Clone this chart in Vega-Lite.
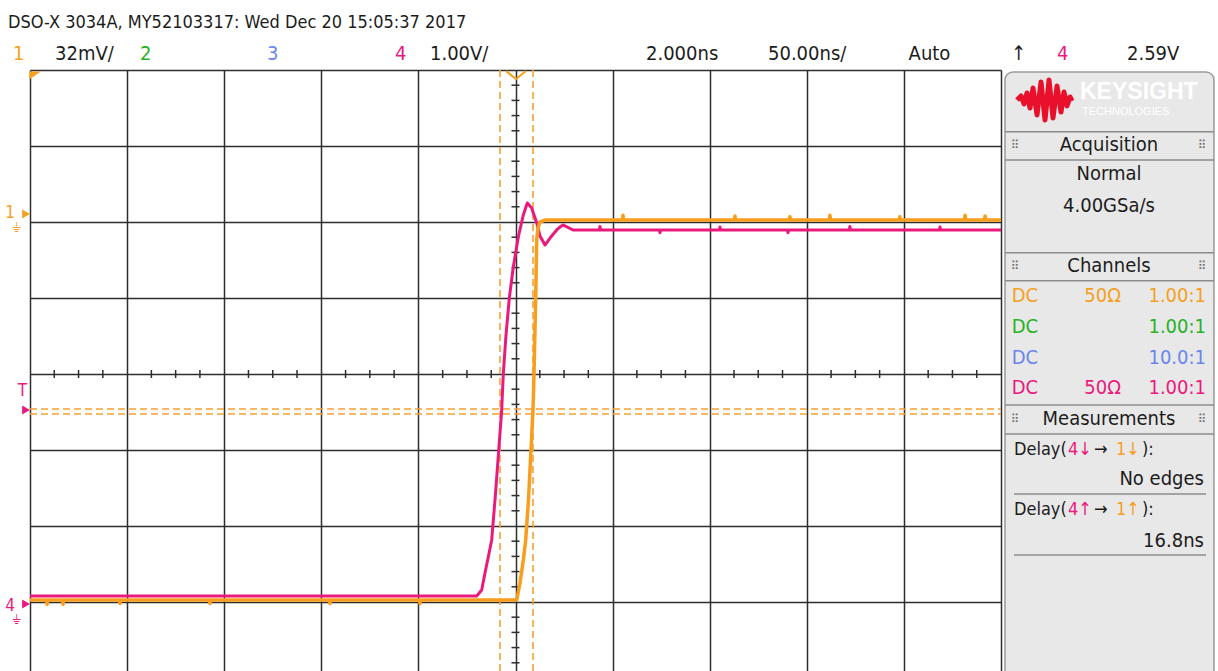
{
  "$schema": "https://vega.github.io/schema/vega-lite/v6.json",
  "width": 971,
  "height": 601,
  "autosize": {"type": "none"},
  "padding": {"left": 30, "top": 70, "right": 217, "bottom": 0},
  "background": "white",
  "config": {
    "view": {"stroke": null},
    "text": {"font": "Liberation Sans Narrow, DejaVu Sans Condensed, Liberation Sans, sans-serif"}
  },
  "datasets": {
    "tr": [
      {"ch": "4", "t": -250, "v": -2.921}, {"ch": "4", "t": -19.98, "v": -2.921}, {"ch": "4", "t": -17.4, "v": -2.842},
      {"ch": "4", "t": -15.71, "v": -2.618}, {"ch": "4", "t": -14.01, "v": -2.408}, {"ch": "4", "t": -12.26, "v": -2.184},
      {"ch": "4", "t": -10.56, "v": -1.658}, {"ch": "4", "t": -9.01, "v": -1.132}, {"ch": "4", "t": -7.11, "v": -0.474},
      {"ch": "4", "t": -6.28, "v": 0}, {"ch": "4", "t": -4.89, "v": 0.513}, {"ch": "4", "t": -3.19, "v": 1.0},
      {"ch": "4", "t": -1.13, "v": 1.408}, {"ch": "4", "t": 1.44, "v": 1.803}, {"ch": "4", "t": 4.02, "v": 2.092},
      {"ch": "4", "t": 6.08, "v": 2.25}, {"ch": "4", "t": 8.34, "v": 2.184}, {"ch": "4", "t": 10.92, "v": 1.987},
      {"ch": "4", "t": 12.62, "v": 1.816}, {"ch": "4", "t": 15.19, "v": 1.697}, {"ch": "4", "t": 17.77, "v": 1.789},
      {"ch": "4", "t": 21.22, "v": 1.895}, {"ch": "4", "t": 22.91, "v": 1.934}, {"ch": "4", "t": 24.46, "v": 1.961},
      {"ch": "4", "t": 29.61, "v": 1.895},
      {"ch": "4", "t": 43.2, "v": 1.895}, {"ch": "4", "t": 43.5, "v": 1.94}, {"ch": "4", "t": 43.8, "v": 1.895},
      {"ch": "4", "t": 74.1, "v": 1.895}, {"ch": "4", "t": 74.4, "v": 1.86}, {"ch": "4", "t": 74.7, "v": 1.895},
      {"ch": "4", "t": 105.0, "v": 1.895}, {"ch": "4", "t": 105.3, "v": 1.935}, {"ch": "4", "t": 105.6, "v": 1.895},
      {"ch": "4", "t": 140.0, "v": 1.895}, {"ch": "4", "t": 140.3, "v": 1.86}, {"ch": "4", "t": 140.6, "v": 1.895},
      {"ch": "4", "t": 171.9, "v": 1.895}, {"ch": "4", "t": 172.2, "v": 1.94}, {"ch": "4", "t": 172.5, "v": 1.895},
      {"ch": "4", "t": 218.3, "v": 1.895}, {"ch": "4", "t": 218.6, "v": 1.935}, {"ch": "4", "t": 218.9, "v": 1.895},
      {"ch": "4", "t": 250, "v": 1.895},
      {"ch": "1", "t": -250, "v": -2.974},
      {"ch": "1", "t": -241.5, "v": -2.974}, {"ch": "1", "t": -241.2, "v": -3.03}, {"ch": "1", "t": -240.9, "v": -2.974},
      {"ch": "1", "t": -233.3, "v": -2.974}, {"ch": "1", "t": -233.0, "v": -3.03}, {"ch": "1", "t": -232.7, "v": -2.974},
      {"ch": "1", "t": -204.0, "v": -2.974}, {"ch": "1", "t": -203.7, "v": -3.02}, {"ch": "1", "t": -203.4, "v": -2.974},
      {"ch": "1", "t": -157.6, "v": -2.974}, {"ch": "1", "t": -157.3, "v": -3.02}, {"ch": "1", "t": -157.0, "v": -2.974},
      {"ch": "1", "t": -95.8, "v": -2.974}, {"ch": "1", "t": -95.5, "v": -3.02}, {"ch": "1", "t": -95.2, "v": -2.974},
      {"ch": "1", "t": -49.5, "v": -2.974}, {"ch": "1", "t": -49.2, "v": -3.02}, {"ch": "1", "t": -48.9, "v": -2.974},
      {"ch": "1", "t": 0.62, "v": -2.974}, {"ch": "1", "t": 2.32, "v": -2.75}, {"ch": "1", "t": 4.02, "v": -2.447},
      {"ch": "1", "t": 5.25, "v": -2.184}, {"ch": "1", "t": 6.69, "v": -1.658}, {"ch": "1", "t": 7.98, "v": -1.0},
      {"ch": "1", "t": 9.01, "v": -0.474}, {"ch": "1", "t": 9.53, "v": 0}, {"ch": "1", "t": 10.4, "v": 1.0},
      {"ch": "1", "t": 10.92, "v": 1.763}, {"ch": "1", "t": 11.59, "v": 1.921}, {"ch": "1", "t": 12.62, "v": 2.0},
      {"ch": "1", "t": 15.19, "v": 2.026},
      {"ch": "1", "t": 55.05, "v": 2.026}, {"ch": "1", "t": 55.35, "v": 2.09}, {"ch": "1", "t": 55.65, "v": 2.026},
      {"ch": "1", "t": 112.7, "v": 2.026}, {"ch": "1", "t": 113.0, "v": 2.08}, {"ch": "1", "t": 113.3, "v": 2.026},
      {"ch": "1", "t": 141.0, "v": 2.026}, {"ch": "1", "t": 141.3, "v": 2.07}, {"ch": "1", "t": 141.6, "v": 2.026},
      {"ch": "1", "t": 161.6, "v": 2.026}, {"ch": "1", "t": 161.9, "v": 2.09}, {"ch": "1", "t": 162.2, "v": 2.026},
      {"ch": "1", "t": 197.6, "v": 2.026}, {"ch": "1", "t": 197.9, "v": 2.07}, {"ch": "1", "t": 198.2, "v": 2.026},
      {"ch": "1", "t": 231.2, "v": 2.026}, {"ch": "1", "t": 231.5, "v": 2.09}, {"ch": "1", "t": 231.8, "v": 2.026},
      {"ch": "1", "t": 241.5, "v": 2.026}, {"ch": "1", "t": 241.8, "v": 2.08}, {"ch": "1", "t": 242.1, "v": 2.026},
      {"ch": "1", "t": 250, "v": 2.026}
    ],
    "cur": [
      {"t": -7.98, "t2": -7.98, "v": 4, "v2": -3.908},
      {"t": 9.01, "t2": 9.01, "v": 4, "v2": -3.908},
      {"t": -250, "t2": 250, "v": -0.461, "v2": -0.461},
      {"t": -250, "t2": 250, "v": -0.526, "v2": -0.526}
    ],
    "tkh": [
      {"t": -237.5, "v": 0}, {"t": -225, "v": 0}, {"t": -212.5, "v": 0}, {"t": -187.5, "v": 0}, {"t": -175, "v": 0}, {"t": -162.5, "v": 0},
      {"t": -137.5, "v": 0}, {"t": -125, "v": 0}, {"t": -112.5, "v": 0}, {"t": -87.5, "v": 0}, {"t": -75, "v": 0}, {"t": -62.5, "v": 0},
      {"t": -37.5, "v": 0}, {"t": -25, "v": 0}, {"t": -12.5, "v": 0}, {"t": 12.5, "v": 0}, {"t": 25, "v": 0}, {"t": 37.5, "v": 0},
      {"t": 62.5, "v": 0}, {"t": 75, "v": 0}, {"t": 87.5, "v": 0}, {"t": 112.5, "v": 0}, {"t": 125, "v": 0}, {"t": 137.5, "v": 0},
      {"t": 162.5, "v": 0}, {"t": 175, "v": 0}, {"t": 187.5, "v": 0}, {"t": 212.5, "v": 0}, {"t": 225, "v": 0}, {"t": 237.5, "v": 0}
    ],
    "tkv": [
      {"t": 0, "v": -3.8}, {"t": 0, "v": -3.6}, {"t": 0, "v": -3.4}, {"t": 0, "v": -3.2}, {"t": 0, "v": -2.8}, {"t": 0, "v": -2.6}, {"t": 0, "v": -2.4},
      {"t": 0, "v": -2.2}, {"t": 0, "v": -1.8}, {"t": 0, "v": -1.6}, {"t": 0, "v": -1.4}, {"t": 0, "v": -1.2}, {"t": 0, "v": -0.8},
      {"t": 0, "v": -0.6}, {"t": 0, "v": -0.4}, {"t": 0, "v": -0.2}, {"t": 0, "v": 0.2}, {"t": 0, "v": 0.4}, {"t": 0, "v": 0.6}, {"t": 0, "v": 0.8},
      {"t": 0, "v": 1.2}, {"t": 0, "v": 1.4}, {"t": 0, "v": 1.6}, {"t": 0, "v": 1.8}, {"t": 0, "v": 2.2}, {"t": 0, "v": 2.4},
      {"t": 0, "v": 2.6}, {"t": 0, "v": 2.8}, {"t": 0, "v": 3.2}, {"t": 0, "v": 3.4}, {"t": 0, "v": 3.6}, {"t": 0, "v": 3.8}
    ],
    "pan": [{"t": 252.05, "t2": 359.67, "v": 3.974, "v2": -4.6}],
    "sep": [
      {"t": 252.05, "t2": 359.67, "v": 3.188, "v2": 3.188},
      {"t": 252.05, "t2": 359.67, "v": 2.816, "v2": 2.816},
      {"t": 252.05, "t2": 359.67, "v": 1.596, "v2": 1.596},
      {"t": 252.05, "t2": 359.67, "v": 1.228, "v2": 1.228},
      {"t": 252.05, "t2": 359.67, "v": -0.408, "v2": -0.408},
      {"t": 252.05, "t2": 359.67, "v": -0.789, "v2": -0.789},
      {"t": 256.7, "t2": 355.56, "v": -1.579, "v2": -1.579},
      {"t": 256.7, "t2": 355.56, "v": -2.382, "v2": -2.382}
    ],
    "logo": [
      {"t": 258.24, "v": 3.605}, {"t": 260.3, "v": 3.658}, {"t": 261.85, "v": 3.553}, {"t": 263.39, "v": 3.697},
      {"t": 264.94, "v": 3.5}, {"t": 266.48, "v": 3.763}, {"t": 268.54, "v": 3.408}, {"t": 270.6, "v": 3.842},
      {"t": 272.66, "v": 3.342}, {"t": 274.72, "v": 3.868}, {"t": 276.78, "v": 3.368}, {"t": 278.84, "v": 3.789},
      {"t": 280.9, "v": 3.447}, {"t": 282.45, "v": 3.711}, {"t": 283.99, "v": 3.526}, {"t": 285.54, "v": 3.645},
      {"t": 286.57, "v": 3.592}
    ],
    "pts": [
      {"t": -252.05, "v": 2.105, "c": "o"},
      {"t": -252.05, "v": -0.474, "c": "p"},
      {"t": -252.05, "v": -3.026, "c": "p"}
    ],
    "topm": [
      {"t": -247.4, "v": 3.928, "c": "o", "k": "corner"},
      {"t": 0.26, "v": 3.934, "c": "o", "k": "vee"}
    ],
    "lab": [
      {"grp": "h1", "t": -261.33, "v": 4.62, "s": "DSO-X 3034A, MY52103317: Wed Dec 20 15:05:37 2017", "c": "k"},
      {"grp": "h", "t": -258.75, "v": 4.211, "s": "1", "c": "o"},
      {"grp": "h", "t": -237.13, "v": 4.211, "s": "32mV/", "c": "k"},
      {"grp": "h", "t": -193.36, "v": 4.211, "s": "2", "c": "g"},
      {"grp": "h", "t": -127.96, "v": 4.211, "s": "3", "c": "b"},
      {"grp": "h", "t": -62.05, "v": 4.211, "s": "4", "c": "p"},
      {"grp": "h", "t": -44.03, "v": 4.211, "s": "1.00V/", "c": "k"},
      {"grp": "h", "t": 67.2, "v": 4.211, "s": "2.000ns", "c": "k"},
      {"grp": "h", "t": 130.02, "v": 4.211, "s": "50.00ns/", "c": "k"},
      {"grp": "h", "t": 202.42, "v": 4.211, "s": "Auto", "c": "k"},
      {"grp": "h", "t": 255.15, "v": 4.211, "s": "↑", "c": "k"},
      {"grp": "h", "t": 278.83, "v": 4.211, "s": "4", "c": "p"},
      {"grp": "h", "t": 314.87, "v": 4.211, "s": "2.59V", "c": "k"},
      {"grp": "pc", "t": 305.61, "v": 3.013, "s": "Acquisition", "c": "k"},
      {"grp": "pc", "t": 305.61, "v": 2.632, "s": "Normal", "c": "k"},
      {"grp": "pc", "t": 305.61, "v": 2.204, "s": "4.00GSa/s", "c": "k"},
      {"grp": "pc", "t": 305.61, "v": 1.421, "s": "Channels", "c": "k"},
      {"grp": "pc", "t": 305.61, "v": -0.586, "s": "Measurements", "c": "k"},
      {"grp": "pl", "t": 255.5, "v": 1.02, "s": "DC", "c": "o"},
      {"grp": "pl", "t": 255.5, "v": 0.618, "s": "DC", "c": "g"},
      {"grp": "pl", "t": 255.5, "v": 0.217, "s": "DC", "c": "b"},
      {"grp": "pl", "t": 255.5, "v": -0.178, "s": "DC", "c": "p"},
      {"grp": "pd", "t": 256.7, "v": -1.0, "s": "Delay(", "c": "k"},
      {"grp": "pd", "t": 284.5, "v": -1.0, "s": "4↓", "c": "p"},
      {"grp": "pd", "t": 297.9, "v": -1.0, "s": "→", "c": "k"},
      {"grp": "pd", "t": 309.2, "v": -1.0, "s": "1↓", "c": "o"},
      {"grp": "pd", "t": 322.6, "v": -1.0, "s": "):", "c": "k"},
      {"grp": "pd", "t": 256.7, "v": -1.789, "s": "Delay(", "c": "k"},
      {"grp": "pd", "t": 284.5, "v": -1.789, "s": "4↑", "c": "p"},
      {"grp": "pd", "t": 297.9, "v": -1.789, "s": "→", "c": "k"},
      {"grp": "pd", "t": 309.2, "v": -1.789, "s": "1↑", "c": "o"},
      {"grp": "pd", "t": 322.6, "v": -1.789, "s": "):", "c": "k"},
      {"grp": "pr", "t": 311.78, "v": 1.02, "s": "50Ω", "c": "o"},
      {"grp": "pr", "t": 355.56, "v": 1.02, "s": "1.00:1", "c": "o"},
      {"grp": "pr", "t": 355.56, "v": 0.618, "s": "1.00:1", "c": "g"},
      {"grp": "pr", "t": 355.56, "v": 0.217, "s": "10.0:1", "c": "b"},
      {"grp": "pr", "t": 311.78, "v": -0.178, "s": "50Ω", "c": "p"},
      {"grp": "pr", "t": 355.56, "v": -0.178, "s": "1.00:1", "c": "p"},
      {"grp": "pr", "t": 354.5, "v": -1.382, "s": "No edges", "c": "k"},
      {"grp": "pr", "t": 354.5, "v": -2.197, "s": "16.8ns", "c": "k"},
      {"grp": "g", "t": 257.2, "v": 3.013, "s": "⠿", "c": "gr"},
      {"grp": "g", "t": 353.5, "v": 3.013, "s": "⠿", "c": "gr"},
      {"grp": "g", "t": 257.2, "v": 1.421, "s": "⠿", "c": "gr"},
      {"grp": "g", "t": 353.5, "v": 1.421, "s": "⠿", "c": "gr"},
      {"grp": "g", "t": 257.2, "v": -0.586, "s": "⠿", "c": "gr"},
      {"grp": "g", "t": 353.5, "v": -0.586, "s": "⠿", "c": "gr"},
      {"grp": "m", "t": -260.3, "v": 2.118, "s": "1", "c": "o"},
      {"grp": "m", "t": -253.87, "v": -0.224, "s": "T", "c": "p"},
      {"grp": "m", "t": -260.3, "v": -3.053, "s": "4", "c": "p"},
      {"grp": "gnd", "t": -257.2, "v": 1.921, "s": "⏚", "c": "o"},
      {"grp": "gnd", "t": -257.2, "v": -3.237, "s": "⏚", "c": "p"},
      {"grp": "k1", "t": 290.68, "v": 3.704, "s": "KEYSIGHT", "c": "w"},
      {"grp": "k2", "t": 291.71, "v": 3.447, "s": "TECHNOLOGIES", "c": "w"}
    ]
  },
  "encoding": {
    "x": {
      "field": "t", "type": "quantitative",
      "scale": {"domain": [-250, 250], "nice": false, "zero": false},
      "axis": {"values": [-250, -200, -150, -100, -50, 0, 50, 100, 150, 200, 250], "grid": true, "gridColor": "#2e2e2e", "gridWidth": 1.5, "gridOpacity": 1, "labels": false, "ticks": false, "domain": false, "title": null}
    },
    "y": {
      "field": "v", "type": "quantitative",
      "scale": {"domain": [-3.908, 4], "nice": false, "zero": false},
      "axis": {"values": [-3, -2, -1, 0, 1, 2, 3, 4], "grid": true, "gridColor": "#2e2e2e", "gridWidth": 1.5, "gridOpacity": 1, "labels": false, "ticks": false, "domain": false, "title": null}
    }
  },
  "layer": [
    {
      "data": {"name": "tkh"},
      "mark": {"type": "tick", "orient": "vertical", "size": 8, "thickness": 1.5, "color": "#2e2e2e", "opacity": 1},
      "encoding": {}
    },
    {
      "data": {"name": "tkv"},
      "mark": {"type": "tick", "orient": "horizontal", "size": 8, "thickness": 1.5, "color": "#2e2e2e", "opacity": 1},
      "encoding": {}
    },
    {
      "data": {"name": "cur"},
      "mark": {"type": "rule", "color": "#f7a035", "strokeWidth": 1.6, "strokeDash": [7, 4]},
      "encoding": {"x2": {"field": "t2"}, "y2": {"field": "v2"}}
    },
    {
      "data": {"name": "tr"},
      "transform": [{"filter": "datum.ch === '4'"}],
      "mark": {"type": "line", "color": "#ea1a7c", "strokeWidth": 3, "strokeJoin": "round"},
      "encoding": {}
    },
    {
      "data": {"name": "tr"},
      "transform": [{"filter": "datum.ch === '1'"}],
      "mark": {"type": "line", "color": "#f99d1c", "strokeWidth": 3.5, "strokeJoin": "round"},
      "encoding": {}
    },
    {
      "data": {"name": "pan"},
      "mark": {"type": "rect", "fill": "#e8e8e8", "stroke": "#9a9a9a", "strokeWidth": 1.5, "cornerRadius": 8},
      "encoding": {"x2": {"field": "t2"}, "y2": {"field": "v2"}}
    },
    {
      "data": {"name": "sep"},
      "mark": {"type": "rule", "color": "#8c8c8c", "strokeWidth": 1.5},
      "encoding": {"x2": {"field": "t2"}, "y2": {"field": "v2"}}
    },
    {
      "data": {"name": "logo"},
      "mark": {"type": "line", "color": "#e8102a", "strokeWidth": 5, "strokeJoin": "round"},
      "encoding": {}
    },
    {
      "data": {"name": "pts"},
      "mark": {"type": "point", "shape": "triangle-right", "filled": true, "size": 80, "opacity": 1},
      "encoding": {"color": {"field": "c", "type": "nominal", "scale": {"domain": ["k", "o", "g", "b", "p", "w", "gr"], "range": ["#1c1c1c", "#f5a01e", "#27b227", "#6a86ee", "#ea1a7c", "#ffffff", "#707070"]}, "legend": null}}
    },
    {
      "data": {"name": "topm"},
      "transform": [{"filter": "datum.k === 'corner'"}],
      "mark": {"type": "point", "shape": "M-1,-0.7L1,-0.7L-1,0.7Z", "filled": true, "size": 130, "opacity": 1, "color": "#f5a01e"},
      "encoding": {}
    },
    {
      "data": {"name": "topm"},
      "transform": [{"filter": "datum.k === 'vee'"}],
      "mark": {"type": "point", "shape": "M-1,-0.4L0,0.4L1,-0.4", "filled": false, "size": 400, "strokeWidth": 2, "opacity": 1, "color": "#f5a01e"},
      "encoding": {}
    },
    {
      "data": {"name": "lab"},
      "transform": [{"filter": "datum.grp === 'h1'"}],
      "mark": {"type": "text", "align": "left", "baseline": "middle", "fontSize": 18},
      "encoding": {"text": {"field": "s"}, "color": {"field": "c", "type": "nominal", "scale": {"domain": ["k", "o", "g", "b", "p", "w", "gr"], "range": ["#1c1c1c", "#f5a01e", "#27b227", "#6a86ee", "#ea1a7c", "#ffffff", "#707070"]}, "legend": null}}
    },
    {
      "data": {"name": "lab"},
      "transform": [{"filter": "datum.grp === 'h'"}],
      "mark": {"type": "text", "align": "left", "baseline": "middle", "fontSize": 20},
      "encoding": {"text": {"field": "s"}, "color": {"field": "c", "type": "nominal", "scale": {"domain": ["k", "o", "g", "b", "p", "w", "gr"], "range": ["#1c1c1c", "#f5a01e", "#27b227", "#6a86ee", "#ea1a7c", "#ffffff", "#707070"]}, "legend": null}}
    },
    {
      "data": {"name": "lab"},
      "transform": [{"filter": "datum.grp === 'pc'"}],
      "mark": {"type": "text", "align": "center", "baseline": "middle", "fontSize": 20},
      "encoding": {"text": {"field": "s"}, "color": {"field": "c", "type": "nominal", "scale": {"domain": ["k", "o", "g", "b", "p", "w", "gr"], "range": ["#1c1c1c", "#f5a01e", "#27b227", "#6a86ee", "#ea1a7c", "#ffffff", "#707070"]}, "legend": null}}
    },
    {
      "data": {"name": "lab"},
      "transform": [{"filter": "datum.grp === 'pl'"}],
      "mark": {"type": "text", "align": "left", "baseline": "middle", "fontSize": 20},
      "encoding": {"text": {"field": "s"}, "color": {"field": "c", "type": "nominal", "scale": {"domain": ["k", "o", "g", "b", "p", "w", "gr"], "range": ["#1c1c1c", "#f5a01e", "#27b227", "#6a86ee", "#ea1a7c", "#ffffff", "#707070"]}, "legend": null}}
    },
    {
      "data": {"name": "lab"},
      "transform": [{"filter": "datum.grp === 'pd'"}],
      "mark": {"type": "text", "align": "left", "baseline": "middle", "fontSize": 18},
      "encoding": {"text": {"field": "s"}, "color": {"field": "c", "type": "nominal", "scale": {"domain": ["k", "o", "g", "b", "p", "w", "gr"], "range": ["#1c1c1c", "#f5a01e", "#27b227", "#6a86ee", "#ea1a7c", "#ffffff", "#707070"]}, "legend": null}}
    },
    {
      "data": {"name": "lab"},
      "transform": [{"filter": "datum.grp === 'pr'"}],
      "mark": {"type": "text", "align": "right", "baseline": "middle", "fontSize": 20},
      "encoding": {"text": {"field": "s"}, "color": {"field": "c", "type": "nominal", "scale": {"domain": ["k", "o", "g", "b", "p", "w", "gr"], "range": ["#1c1c1c", "#f5a01e", "#27b227", "#6a86ee", "#ea1a7c", "#ffffff", "#707070"]}, "legend": null}}
    },
    {
      "data": {"name": "lab"},
      "transform": [{"filter": "datum.grp === 'g'"}],
      "mark": {"type": "text", "align": "center", "baseline": "middle", "fontSize": 12, "font": "DejaVu Sans"},
      "encoding": {"text": {"field": "s"}, "color": {"field": "c", "type": "nominal", "scale": {"domain": ["k", "o", "g", "b", "p", "w", "gr"], "range": ["#1c1c1c", "#f5a01e", "#27b227", "#6a86ee", "#ea1a7c", "#ffffff", "#707070"]}, "legend": null}}
    },
    {
      "data": {"name": "lab"},
      "transform": [{"filter": "datum.grp === 'm'"}],
      "mark": {"type": "text", "align": "center", "baseline": "middle", "fontSize": 17},
      "encoding": {"text": {"field": "s"}, "color": {"field": "c", "type": "nominal", "scale": {"domain": ["k", "o", "g", "b", "p", "w", "gr"], "range": ["#1c1c1c", "#f5a01e", "#27b227", "#6a86ee", "#ea1a7c", "#ffffff", "#707070"]}, "legend": null}}
    },
    {
      "data": {"name": "lab"},
      "transform": [{"filter": "datum.grp === 'gnd'"}],
      "mark": {"type": "text", "align": "center", "baseline": "middle", "fontSize": 13, "font": "DejaVu Sans"},
      "encoding": {"text": {"field": "s"}, "color": {"field": "c", "type": "nominal", "scale": {"domain": ["k", "o", "g", "b", "p", "w", "gr"], "range": ["#1c1c1c", "#f5a01e", "#27b227", "#6a86ee", "#ea1a7c", "#ffffff", "#707070"]}, "legend": null}}
    },
    {
      "data": {"name": "lab"},
      "transform": [{"filter": "datum.grp === 'k1'"}],
      "mark": {"type": "text", "align": "left", "baseline": "middle", "fontSize": 23, "fontWeight": "bold", "font": "Liberation Sans"},
      "encoding": {"text": {"field": "s"}, "color": {"field": "c", "type": "nominal", "scale": {"domain": ["k", "o", "g", "b", "p", "w", "gr"], "range": ["#1c1c1c", "#f5a01e", "#27b227", "#6a86ee", "#ea1a7c", "#ffffff", "#707070"]}, "legend": null}}
    },
    {
      "data": {"name": "lab"},
      "transform": [{"filter": "datum.grp === 'k2'"}],
      "mark": {"type": "text", "align": "left", "baseline": "middle", "fontSize": 11, "font": "Liberation Sans"},
      "encoding": {"text": {"field": "s"}, "color": {"field": "c", "type": "nominal", "scale": {"domain": ["k", "o", "g", "b", "p", "w", "gr"], "range": ["#1c1c1c", "#f5a01e", "#27b227", "#6a86ee", "#ea1a7c", "#ffffff", "#707070"]}, "legend": null}}
    }
  ]
}
